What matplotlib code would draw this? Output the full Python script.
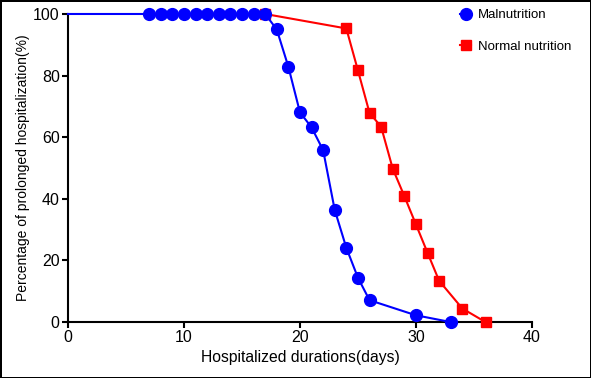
import matplotlib
matplotlib.use('Agg')
import matplotlib.pyplot as plt

plt.rcParams['font.family'] = ['Liberation Sans', 'DejaVu Sans']

# data
mal_x = [0, 7, 8, 9, 10, 11, 12, 13, 14, 15, 16, 17, 18, 19, 20, 21, 22, 23, 24, 25, 26, 30, 33]
mal_y = [100, 100, 100, 100, 100, 100, 100, 100, 100, 100, 100, 100, 95.0, 82.9, 68.1, 63.2, 55.8, 36.4, 24.1, 14.4, 7.1, 2.2, 0]
norm_x = [17, 24, 25, 26, 27, 28, 29, 30, 31, 32, 34, 36]
norm_y = [100, 95.3, 81.7, 67.9, 63.4, 49.8, 40.9, 31.7, 22.5, 13.4, 4.4, 0]

fig = plt.figure(figsize=(5.91, 3.78), dpi=100)
fig.patch.set_edgecolor('black')
fig.patch.set_linewidth(2)
ax = fig.add_axes([0.115, 0.148, 0.785, 0.815])

ax.plot(norm_x, norm_y, color='red', lw=1.5, marker='s', ms=7.5,
        clip_on=False, label='Normal nutrition', zorder=3)
ax.plot(mal_x, mal_y, color='blue', lw=1.5, marker='o', ms=8.5,
        markevery=list(range(1, len(mal_x))), clip_on=False,
        label='Malnutrition', zorder=4)

ax.set_xlim(0, 40)
ax.set_ylim(0, 100)
ax.set_xticks([0, 10, 20, 30, 40])
ax.set_yticks([0, 20, 40, 60, 80, 100])
ax.spines['top'].set_visible(False)
ax.spines['right'].set_visible(False)
ax.spines['left'].set_linewidth(1.5)
ax.spines['bottom'].set_linewidth(1.5)
ax.tick_params(direction='out', length=4, width=1.5, labelsize=11.5, pad=2)

ax.set_xlabel('Hospitalized durations(days)', fontsize=11.3, labelpad=3)
ax.set_ylabel('Percentage of prolonged hospitalization(%)', fontsize=10, labelpad=2)

h, l = ax.get_legend_handles_labels()
leg = fig.legend(h[::-1], l[::-1], loc='upper left', bbox_to_anchor=(0.762, 1.0),
                 frameon=False, fontsize=9.5, handlelength=0.9, handletextpad=0.5,
                 labelspacing=1.45, borderaxespad=0.3)

fig.savefig('out.png', dpi=100)
